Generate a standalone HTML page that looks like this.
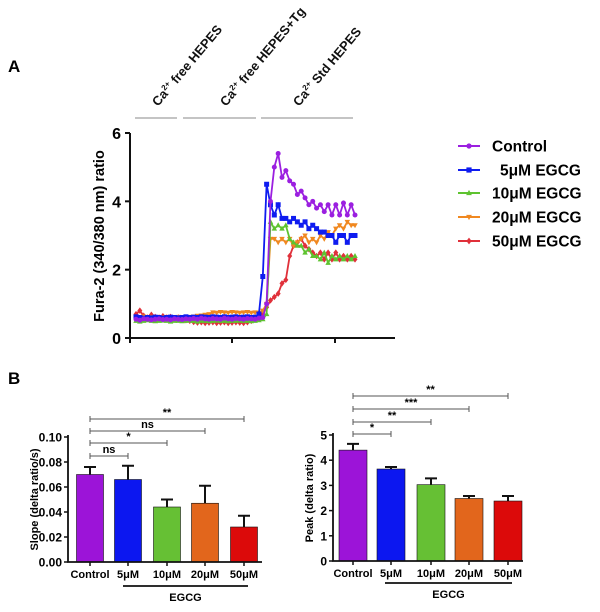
<!DOCTYPE html>
<html><head><meta charset="utf-8">
<style>
html,body{margin:0;padding:0;background:#fff;}
svg{display:block;font-family:"Liberation Sans",Arial,sans-serif;}
.b{font-weight:bold;}
</style></head>
<body>
<svg id="svg" width="600" height="612" viewBox="0 0 600 612" xmlns="http://www.w3.org/2000/svg">
<text x="8" y="72" class="b" font-size="17">A</text>
<text x="8" y="384" class="b" font-size="17">B</text>
<g font-size="13" font-weight="bold" fill="#111">
<line x1="135" y1="118" x2="177" y2="118" stroke="#888"/>
<line x1="183" y1="118" x2="256" y2="118" stroke="#888"/>
<line x1="261" y1="118" x2="353" y2="118" stroke="#888"/>
<text transform="translate(158,107) rotate(-50)">Ca<tspan font-size="8" dy="-5">2+</tspan><tspan dy="5"> free HEPES</tspan></text>
<text transform="translate(226,107) rotate(-50)">Ca<tspan font-size="8" dy="-5">2+</tspan><tspan dy="5"> free HEPES+Tg</tspan></text>
<text transform="translate(299,107) rotate(-50)">Ca<tspan font-size="8" dy="-5">2+</tspan><tspan dy="5"> Std HEPES</tspan></text>
</g>
<g id="panelA"></g>
<g id="legend"></g>
<g id="panelB1"></g>
<g id="panelB2"></g>
</svg>
<script>
const NS="http://www.w3.org/2000/svg";
function mk(p,t,a){const e=document.createElementNS(NS,t);for(const k in a)e.setAttribute(k,a[k]);p.appendChild(e);return e;}

// ---- Panel A data ----
const seriesNames=["Control","5μM EGCG","10μM EGCG","20μM EGCG","50μM EGCG"];
const yTicksA=[0,2,4,6];
const controlTrace=[0.55,0.52,0.56,0.55,0.53,0.55,0.56,0.54,0.55,0.53,0.56,0.55,0.54,0.56,0.55,0.57,0.55,0.58,0.56,0.55,0.57,0.56,0.55,0.58,0.56,0.55,0.57,0.56,0.55,0.57,0.56,0.55,0.58,0.6,1.0,4.0,5.0,5.4,4.7,4.9,4.6,4.5,4.2,4.3,4.1,3.9,4.0,3.8,3.9,3.7,3.9,3.6,3.9,3.6,3.95,3.6,3.9,3.6];
const egcg5Trace=[0.62,0.6,0.58,0.6,0.59,0.61,0.6,0.58,0.6,0.61,0.6,0.59,0.6,0.62,0.6,0.61,0.6,0.62,0.61,0.6,0.62,0.61,0.6,0.62,0.6,0.61,0.62,0.6,0.61,0.62,0.6,0.61,0.7,1.8,4.5,3.9,3.6,3.9,3.5,3.5,3.4,3.5,3.4,3.3,3.4,3.2,3.3,3.2,3.1,3.1,3.0,3.0,2.8,3.0,3.0,2.8,3.0,3.0];
const egcg10Trace=[0.5,0.48,0.5,0.52,0.5,0.49,0.5,0.51,0.5,0.48,0.5,0.5,0.49,0.5,0.51,0.5,0.48,0.5,0.5,0.49,0.5,0.51,0.5,0.5,0.49,0.5,0.5,0.51,0.5,0.5,0.49,0.5,0.52,0.55,0.7,3.4,3.2,3.3,3.2,3.3,2.9,2.8,2.7,2.7,2.5,2.6,2.4,2.4,2.3,2.5,2.2,2.4,2.3,2.4,2.3,2.4,2.3,2.4];
const egcg20Trace=[0.62,0.6,0.63,0.6,0.62,0.6,0.61,0.6,0.62,0.6,0.61,0.62,0.6,0.61,0.62,0.63,0.65,0.66,0.68,0.7,0.75,0.74,0.76,0.75,0.74,0.76,0.75,0.74,0.75,0.76,0.74,0.75,0.74,0.8,1.0,2.9,2.9,2.8,2.9,2.8,2.9,2.7,2.8,2.9,3.0,2.8,2.9,2.8,3.0,2.9,3.1,3.0,3.2,3.3,3.2,3.4,3.3,3.3];
const egcg50Trace=[0.7,0.8,0.65,0.6,0.68,0.62,0.6,0.64,0.6,0.62,0.58,0.6,0.55,0.52,0.5,0.47,0.45,0.46,0.44,0.45,0.46,0.44,0.45,0.46,0.44,0.45,0.46,0.45,0.44,0.46,0.5,0.55,0.6,0.7,0.9,1.1,1.2,1.3,1.6,1.7,2.4,2.7,2.8,2.9,2.7,2.6,2.5,2.4,2.5,2.3,2.5,2.3,2.5,2.3,2.4,2.3,2.4,2.3];
const traces=[controlTrace,egcg5Trace,egcg10Trace,egcg20Trace,egcg50Trace];
const colors=["#9b1fe0","#0f1cf0","#5ec330","#f08820","#e0303a"];
const markers=["circle","square","tri-up","tri-down","diamond"];

const A=document.getElementById("panelA");
const ax0=130,ay0=338,ay1=133,axEnd=395,dx0=136,dx1=355;
const yA=v=>ay0-(v/6)*(ay0-ay1);
const xA=i=>dx0+i*(dx1-dx0)/(controlTrace.length-1);

function marker(g,type,x,y,c,s){
  let e;
  if(type==="circle")e=mk(g,"circle",{cx:x,cy:y,r:s,fill:c});
  else if(type==="square")e=mk(g,"rect",{x:x-s,y:y-s,width:2*s,height:2*s,fill:c});
  else if(type==="tri-up")e=mk(g,"polygon",{points:`${x},${y-s*1.2} ${x-s*1.1},${y+s*0.8} ${x+s*1.1},${y+s*0.8}`,fill:c});
  else if(type==="tri-down")e=mk(g,"polygon",{points:`${x},${y+s*1.2} ${x-s*1.1},${y-s*0.8} ${x+s*1.1},${y-s*0.8}`,fill:c});
  else e=mk(g,"polygon",{points:`${x},${y-s*1.3} ${x-s},${y} ${x},${y+s*1.3} ${x+s},${y}`,fill:c});
  return e;
}

for(let k=4;k>=0;k--){
  const g=mk(A,"g",{});
  
  
  const d=traces[k].map((v,i)=>(i?"L":"M")+xA(i).toFixed(1)+","+yA(v).toFixed(1)).join("");
  const p=mk(g,"path",{d:d,fill:"none",stroke:colors[k],"stroke-width":1.8});
  
  
  traces[k].forEach((v,i)=>{
    const m=marker(g,markers[k],xA(i),yA(v),colors[k],2.5);
    
    
  });
}
let e=mk(A,"path",{d:`M${ax0},${ay1}V${ay0}H${axEnd}`,fill:"none",stroke:"#111","stroke-width":2});


[ax0,232,335].forEach(x=>{mk(A,"line",{x1:x,y1:ay0,x2:x,y2:ay0+5,stroke:"#111","stroke-width":2});});
yTicksA.forEach(v=>{
  mk(A,"line",{x1:ax0-5,y1:yA(v),x2:ax0,y2:yA(v),stroke:"#111","stroke-width":2});
  const t=mk(A,"text",{x:ax0-9,y:yA(v)+6,"text-anchor":"end","font-size":16,"font-weight":"bold"});
  t.textContent=v;
  
  
});
e=mk(A,"text",{transform:"translate(104,236) rotate(-90)","text-anchor":"middle","font-size":14.5,"font-weight":"bold"});
e.textContent="Fura-2 (340/380 nm) ratio";



const L=document.getElementById("legend");
const legY=[146,170,193,217,241];
seriesNames.forEach((n,k)=>{
  const g=mk(L,"g",{});
  
  
  mk(g,"line",{x1:458,y1:legY[k],x2:480,y2:legY[k],stroke:colors[k],"stroke-width":2});
  marker(g,markers[k],469,legY[k],colors[k],2.6);
  const t=mk(g,"text",{x:k===1?500:492,y:legY[k]+5.5,"font-size":15.5,"font-weight":"bold"});
  t.textContent=n;
});

// ---- Panel B data ----
const barCats=["Control","5μM","10μM","20μM","50μM"];
const barColors=["#9c14d8","#0c17f0","#66c034","#e2661c","#dc0a0a"];
const slopeVals=[0.070,0.066,0.044,0.047,0.028];
const slopeErr=[0.006,0.011,0.006,0.014,0.009];
const slopeTicks=["0.00","0.02","0.04","0.06","0.08","0.10"];
const slopeSig=["ns","*","ns","**"];
const peakVals=[4.4,3.65,3.03,2.48,2.38];
const peakErr=[0.25,0.08,0.25,0.1,0.2];
const peakTicks=["0","1","2","3","4","5"];
const peakSig=["*","**","***","**"];

function barChart(G,o){
  const y=v=>o.y0-(v/o.max)*(o.y0-o.y1);
  o.vals.forEach((v,i)=>{
    const cx=o.cx[i];
    const er=mk(G,"path",{d:`M${cx},${y(v)}V${y(v+o.err[i])}M${cx-6},${y(v+o.err[i])}H${cx+6}`,stroke:"#111","stroke-width":2,fill:"none"});
    
    
    const r=mk(G,"rect",{x:cx-o.bw/2,y:y(v),width:o.bw,height:o.y0-y(v),fill:barColors[i],stroke:"#111","stroke-width":0.6});
    
    
    mk(G,"line",{x1:cx,y1:o.y0,x2:cx,y2:o.y0+4,stroke:"#111","stroke-width":1.5});
    const t=mk(G,"text",{x:cx,y:o.y0+16,"text-anchor":"middle","font-size":11,"font-weight":"bold"});
    t.textContent=barCats[i];
    
    
  });
  const ax=mk(G,"path",{d:`M${o.ax},${o.y1-2}V${o.y0}H${o.axEnd}`,stroke:"#111","stroke-width":1.8,fill:"none"});
  
  
  o.ticks.forEach(tk=>{
    const yy=y(parseFloat(tk));
    mk(G,"line",{x1:o.ax-4,y1:yy,x2:o.ax,y2:yy,stroke:"#111","stroke-width":1.5});
    const t=mk(G,"text",{x:o.ax-6,y:yy+4.5,"text-anchor":"end","font-size":12,"font-weight":"bold"});
    t.textContent=tk;
    
    
  });
  const tt=mk(G,"text",{transform:`translate(${o.titleX},${(o.y0+o.y1)/2}) rotate(-90)`,"text-anchor":"middle","font-size":11,"font-weight":"bold"});
  tt.textContent=o.title;
  
  
  o.sig.forEach((s,i)=>{
    const yy=o.sigY[i],x1=o.cx[0],x2=o.cx[i+1];
    const l=mk(G,"path",{d:`M${x1},${yy-3}V${yy+3}M${x1},${yy}H${x2}M${x2},${yy-3}V${yy+3}`,stroke:"#555","stroke-width":1,fill:"none"});
    
    
    const t=mk(G,"text",{x:(x1+x2)/2,y:yy-3,"text-anchor":"middle","font-size":11,"font-weight":"bold"});
    t.textContent=s;
    
    
  });
  const el=mk(G,"line",{x1:o.egX[0],y1:o.egY,x2:o.egX[1],y2:o.egY,stroke:"#111","stroke-width":1.8});
  
  
  const et=mk(G,"text",{x:(o.egX[0]+o.egX[1])/2,y:o.egY+15,"text-anchor":"middle","font-size":11,"font-weight":"bold"});
  et.textContent="EGCG";
  
  
}
barChart(document.getElementById("panelB1"),{vals:slopeVals,err:slopeErr,ticks:slopeTicks,sig:slopeSig,max:0.10,y0:562,y1:437,ax:68,axEnd:262,cx:[90,128,167,205,244],bw:27,title:"Slope (delta ratio/s)",titleX:38,sigY:[456,443,431,419],egX:[123,248],egY:586});
barChart(document.getElementById("panelB2"),{vals:peakVals,err:peakErr,ticks:peakTicks,sig:peakSig,max:5,y0:561,y1:435,ax:333,axEnd:523,cx:[353,391,431,469,508],bw:28,title:"Peak (delta ratio)",titleX:313,sigY:[434,422,409,396],egX:[385,512],egY:583});
</script>
</body></html>
